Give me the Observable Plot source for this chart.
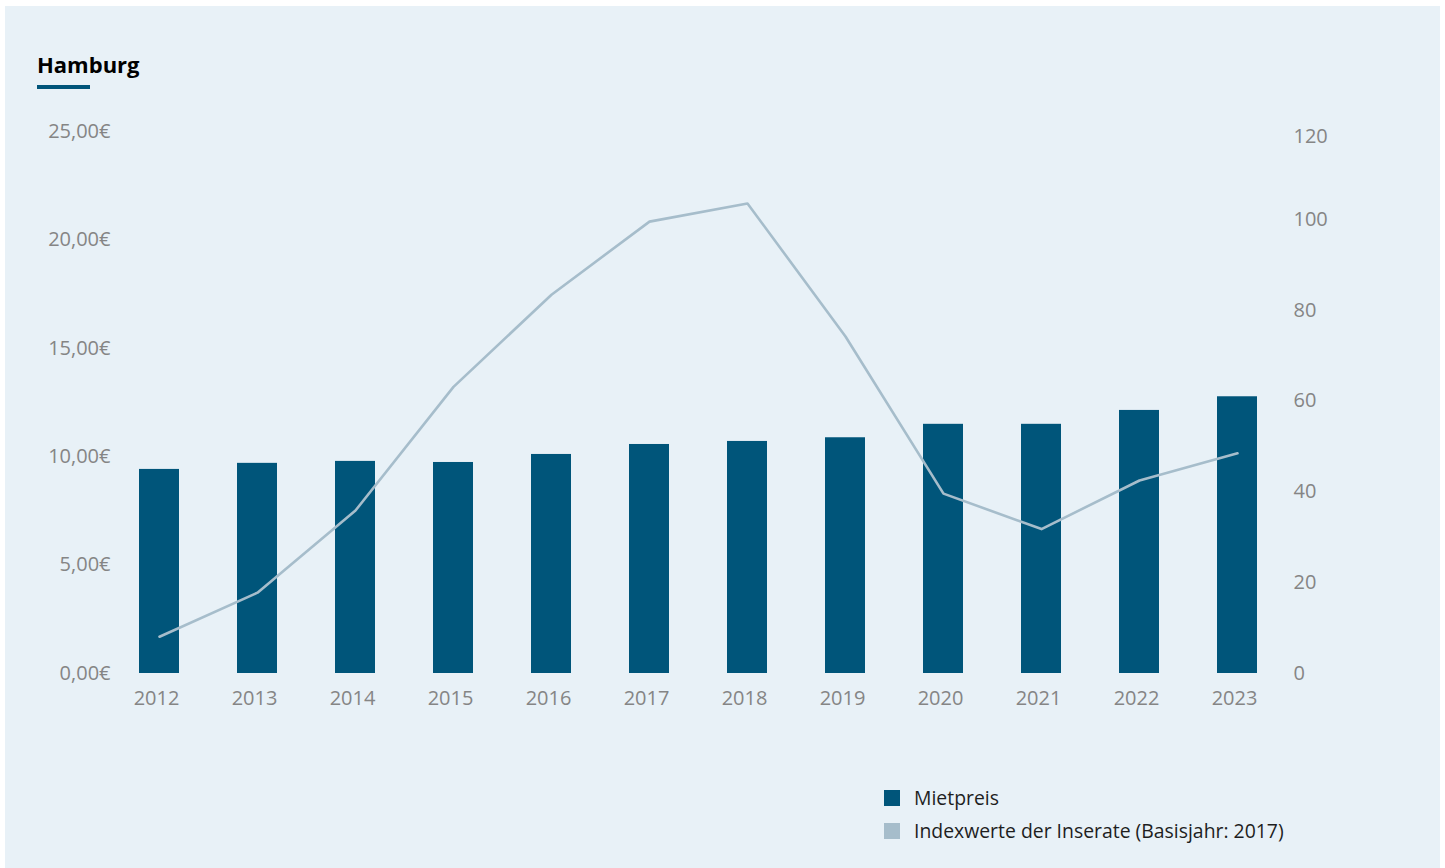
<!DOCTYPE html>
<html><head><meta charset="utf-8">
<script src="https://cdn.jsdelivr.net/npm/d3@7"></script>
<script src="https://cdn.jsdelivr.net/npm/@observablehq/plot@0.6"></script>
<style>
body{margin:0;background:#fff;font-family:"Open Sans",sans-serif;width:1445px;height:868px;overflow:hidden;position:relative;}
#panel{position:absolute;left:5px;top:6px;width:1435px;height:862px;background:#e8f1f7;}
#title{position:absolute;left:37px;top:53px;font-weight:700;font-size:22px;line-height:22px;color:#000;}
#uline{position:absolute;left:37px;top:85px;width:53px;height:4px;background:#00557a;}
#chart{position:absolute;left:0;top:0;}
#legend{position:absolute;left:884px;top:781px;font-size:19.4px;color:#1e1e1e;}
.li{display:flex;align-items:center;height:33px;}
.sw{width:16px;height:16px;margin-right:14px;}
</style></head>
<body>
<div id="panel"></div>
<div id="title">Hamburg</div>
<div id="uline"></div>
<div id="chart"></div>
<div id="legend"></div>
<script>
const years = ["2012","2013","2014","2015","2016","2017","2018","2019","2020","2021","2022","2023"];
const mietpreis = [9.41, 9.69, 9.78, 9.73, 10.10, 10.56, 10.70, 10.87, 11.49, 11.49, 12.13, 12.76];
const indexwerte = [8.1, 17.8, 35.9, 63.1, 83.4, 99.5, 103.5, 74.2, 39.6, 31.8, 42.5, 48.5];
const leftTicks = [0, 5, 10, 15, 20, 25];
const rightTicks = [0, 20, 40, 60, 80, 100];
const rightTop = 120;
const seriesNames = ["Mietpreis", "Indexwerte der Inserate (Basisjahr: 2017)"];
const colors = ["#00557a", "#a6bdcb"];

const k = 25 / 119.38; // index units -> euro axis units
const data = years.map((y, i) => ({year: y, miete: mietpreis[i], idx: indexwerte[i]}));
const fmtEuro = d => d.toFixed(2).replace(".", ",") + "€";

const plot = Plot.plot({
  width: 1445,
  height: 720,
  marginTop: 128,
  marginBottom: 47,
  marginLeft: 80,
  marginRight: 129,
  style: {background: "transparent", fontFamily: "'Open Sans', sans-serif", fontSize: "20px", color: "#858585"},
  x: {type: "band", domain: years, padding: 0.593},
  y: {domain: [0, rightTop * k]},
  marks: [
    Plot.barY(data, {x: "year", y: "miete", fill: colors[0]}),
    Plot.line(data, {x: "year", y: d => d.idx * k, stroke: colors[1], strokeWidth: 2.6}),
    Plot.axisX({tickSize: 0, tickPadding: 17, dx: -3, label: null, fill: "#858585"}),
    Plot.axisY({anchor: "left", ticks: leftTicks, tickFormat: fmtEuro, tickSize: 0, tickPadding: 0, dx: 30, label: null, fill: "#858585"}),
    Plot.axisY({anchor: "right", ticks: rightTicks.map(v => v * k), tickFormat: d => String(Math.round(d / k)), tickSize: 0, tickPadding: 0, dx: -23, label: null, fill: "#858585"}),
    Plot.axisY({anchor: "right", ticks: [rightTop * k], tickFormat: d => String(Math.round(d / k)), tickSize: 0, tickPadding: 0, dx: -23, dy: 8, label: null, fill: "#858585"})
  ]
});
document.getElementById("chart").appendChild(plot);

const leg = document.getElementById("legend");
seriesNames.forEach((n, i) => {
  const row = document.createElement("div");
  row.className = "li";
  row.innerHTML = `<div class="sw" style="background:${colors[i]}"></div><span>${n}</span>`;
  leg.appendChild(row);
});
</script>
</body></html>
